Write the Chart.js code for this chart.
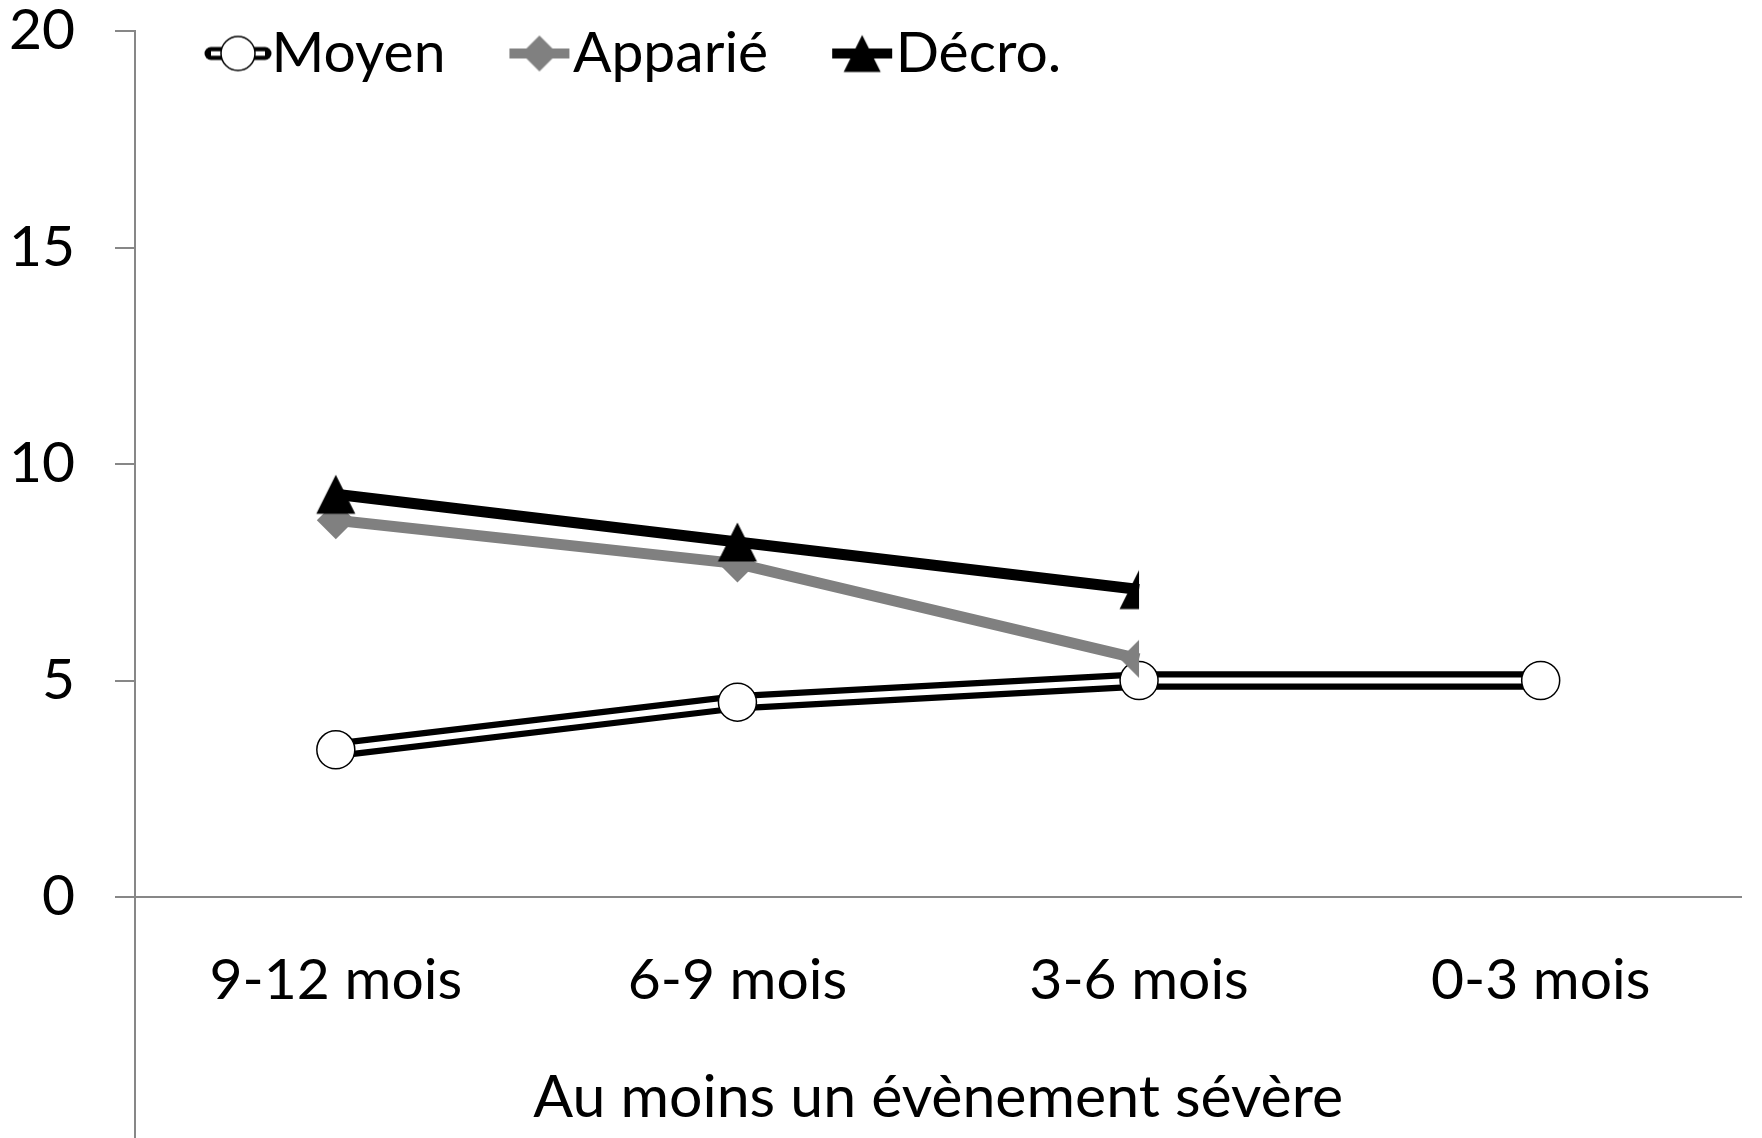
<!DOCTYPE html>
<html>
<head>
<meta charset="utf-8">
<script src="https://cdn.jsdelivr.net/npm/chart.js@4.4.1/dist/chart.umd.min.js"></script>
<style>
  html, body { margin: 0; padding: 0; background: #fff; }
</style>
</head>
<body>
<canvas id="chart" width="1762" height="1138"></canvas>
<script>
// data
const categories = ['9-12 mois', '6-9 mois', '3-6 mois', '0-3 mois'];
const moyen = [3.4, 4.5, 5.0, 5.0];
const apparie = [8.7, 7.7, 5.5, null];
const decro = [9.3, 8.2, 7.1, null];
const yTicks = [0, 5, 10, 15, 20];
const seriesNames = ['Moyen', 'Apparié', 'Décro.'];
const axisTitle = 'Au moins un évènement sévère';

const FONT = 'Lato';
const FSIZE = 57;
const GREY = '#808080';
const AXIS = '#878787';

function makeCanvas(w, h, draw) {
  const c = document.createElement('canvas');
  c.width = w;
  c.height = h;
  draw(c.getContext('2d'), w, h);
  return c;
}

// triangle as in the original: as tall as it is wide, centred on its box
function triPath(g, cx, cy, s, half) {
  g.beginPath();
  g.moveTo(cx, cy - s / 2);
  g.lineTo(cx - s / 2, cy + s / 2);
  g.lineTo(half ? cx : cx + s / 2, cy + s / 2);
  g.closePath();
}

function diamondPath(g, cx, cy, r, half) {
  g.beginPath();
  g.moveTo(cx, cy - r);
  g.lineTo(cx - r, cy);
  g.lineTo(cx, cy + r);
  if (!half) g.lineTo(cx + r, cy);
  g.closePath();
}

const tri = makeCanvas(42, 42, (g) => {
  g.fillStyle = '#000';
  triPath(g, 21, 21, 39, false);
  g.fill();
});
// last markers of the two shorter series are cut in half in the original
const halfTri = makeCanvas(42, 42, (g) => {
  g.fillStyle = '#000';
  triPath(g, 21, 21, 39, true);
  g.fill();
});
const halfDiamond = makeCanvas(42, 42, (g) => {
  g.fillStyle = GREY;
  diamondPath(g, 21, 21, 19, true);
  g.fill();
});

// legend samples: line + marker
const legendIcons = [
  makeCanvas(68, 50, (g, w, h) => {
    g.lineCap = 'round';
    g.strokeStyle = '#000';
    g.lineWidth = 13;
    g.beginPath(); g.moveTo(7, h / 2); g.lineTo(w - 7, h / 2); g.stroke();
    g.strokeStyle = '#fff';
    g.lineWidth = 4.5;
    g.lineCap = 'butt';
    g.beginPath(); g.moveTo(7, h / 2); g.lineTo(w - 7, h / 2); g.stroke();
    g.fillStyle = '#fff';
    g.strokeStyle = '#000';
    g.lineWidth = 1.5;
    g.beginPath(); g.arc(w / 2, h / 2, 17, 0, Math.PI * 2); g.fill(); g.stroke();
  }),
  makeCanvas(68, 50, (g, w, h) => {
    g.strokeStyle = GREY;
    g.lineWidth = 10;
    g.beginPath(); g.moveTo(4, h / 2); g.lineTo(w - 4, h / 2); g.stroke();
    g.fillStyle = GREY;
    diamondPath(g, w / 2, h / 2, 18, false);
    g.fill();
  }),
  makeCanvas(68, 50, (g, w, h) => {
    g.strokeStyle = '#000';
    g.lineWidth = 10;
    g.beginPath(); g.moveTo(4, h / 2); g.lineTo(w - 4, h / 2); g.stroke();
    g.fillStyle = '#000';
    triPath(g, w / 2, h / 2, 37, false);
    g.fill();
  })
];

// legend sits inside the plot, on one row, top left like the original
const legendPos = {
  id: 'legendPos',
  afterInit(chart) {
    chart.legend.isHorizontal = () => true;
  },
  afterLayout(chart) {
    const lg = chart.legend;
    const p = lg.options.labels.padding;
    lg.left = 233 - p;
    lg.top = 25 - p;
  }
};

// y axis line goes on below the x axis down to the bottom
const axisExtend = {
  id: 'axisExtend',
  afterDraw(chart) {
    const { ctx, chartArea } = chart;
    ctx.save();
    ctx.strokeStyle = AXIS;
    ctx.lineWidth = 2;
    ctx.beginPath();
    ctx.moveTo(chartArea.left, chartArea.bottom);
    ctx.lineTo(chartArea.left, chart.height);
    ctx.stroke();
    ctx.restore();
  }
};

const ctx = document.getElementById('chart');
new Chart(ctx, {
  type: 'line',
  data: {
    labels: categories,
    datasets: [
      {
        label: 'Moyen',
        data: moyen,
        borderColor: '#000',
        borderWidth: 18.5,
        pointRadius: 0,
        order: 4,
      },
      {
        label: 'Moyen inner',
        data: moyen,
        borderColor: '#fff',
        borderWidth: 6,
        pointRadius: 19,
        pointBackgroundColor: '#fff',
        pointBorderColor: '#000',
        pointBorderWidth: 1.5,
        order: 3,
      },
      {
        label: 'Apparié',
        data: apparie,
        borderColor: GREY,
        borderWidth: 11,
        pointStyle: ['rectRot', 'rectRot', halfDiamond],
        pointRadius: 19,
        pointBackgroundColor: GREY,
        pointBorderColor: GREY,
        pointBorderWidth: 0,
        order: 2,
      },
      {
        label: 'Décro.',
        data: decro,
        borderColor: '#000',
        borderWidth: 11,
        pointStyle: [tri, tri, halfTri],
        pointRadius: 20,
        pointBackgroundColor: '#000',
        pointBorderColor: '#000',
        pointBorderWidth: 0,
        order: 1,
      },
    ]
  },
  plugins: [legendPos, axisExtend],
  options: {
    responsive: false,
    devicePixelRatio: 1,
    animation: false,
    events: [],
    layout: {
      padding: { top: 0, right: 12, left: 0, bottom: 0 }
    },
    plugins: {
      tooltip: { enabled: false },
      legend: {
        position: 'chartArea',
        align: 'start',
        labels: {
          usePointStyle: true,
          pointStyleWidth: 10,
          padding: 89,
          color: '#000',
          font: { family: FONT, size: FSIZE },
          generateLabels: () => seriesNames.map((name, i) => ({
            text: name,
            pointStyle: legendIcons[i],
            fontColor: '#000',
            fillStyle: 'transparent',
            strokeStyle: 'transparent',
            lineWidth: 0,
            hidden: false,
          })),
        }
      }
    },
    scales: {
      x: {
        offset: true,
        grid: { display: false, drawTicks: false },
        border: { display: true, color: AXIS, width: 2 },
        ticks: {
          color: '#000',
          font: { family: FONT, size: FSIZE },
          padding: 49,
          maxRotation: 0,
          autoSkip: false,
        },
        title: {
          display: true,
          text: axisTitle,
          color: '#000',
          font: { family: FONT, size: 59 },
          padding: { top: 0, bottom: 5 },
        },
        afterFit: (s) => {
          s.height = 241;
          s.paddingLeft = 0;
          s.paddingRight = 0;
        }
      },
      y: {
        min: 0,
        max: 20,
        afterBuildTicks: (s) => { s.ticks = yTicks.map((v) => ({ value: v })); },
        grid: {
          drawOnChartArea: false,
          drawTicks: true,
          tickLength: 20,
          color: AXIS,
          lineWidth: 2,
        },
        border: { display: true, color: AXIS, width: 2 },
        ticks: {
          color: '#000',
          font: { family: FONT, size: FSIZE, lineHeight: 1 },
          padding: 40,
        },
        afterFit: (s) => {
          s.width = 135;
          s.paddingTop = 31;
          s.paddingBottom = 0;
        }
      }
    }
  }
});
</script>
</body>
</html>
